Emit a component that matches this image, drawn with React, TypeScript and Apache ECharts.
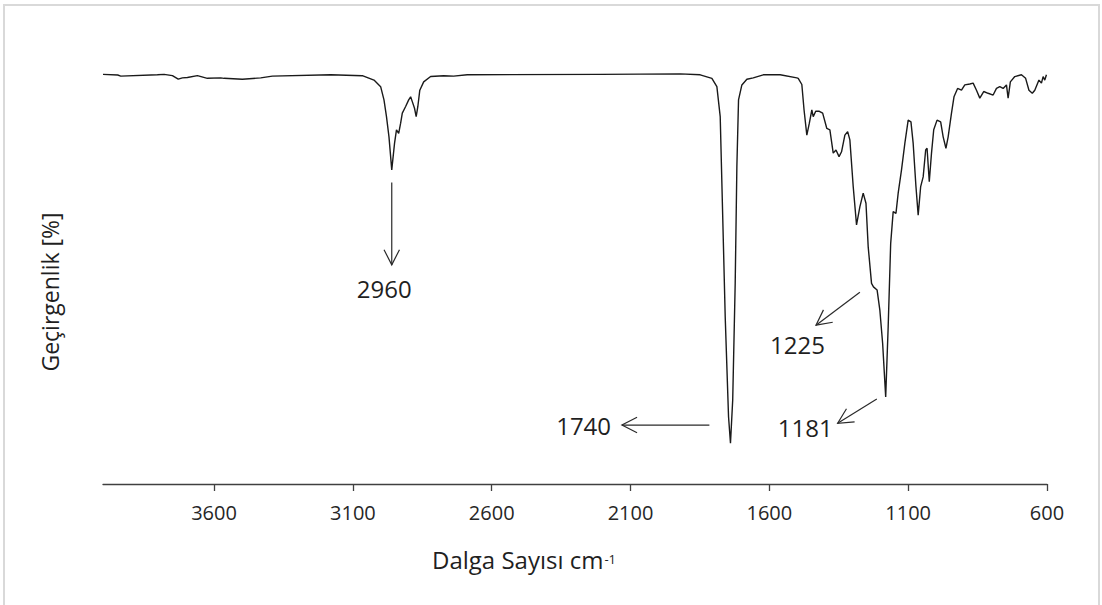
import React, { useEffect, useRef } from 'react';
import * as echarts from 'echarts';

// FTIR spectrum: wavenumber (cm-1) vs. transmittance (%)
const wavenumber = [
  4000, 3947, 3936, 3804, 3780, 3750, 3729, 3714, 3696, 3660,
  3624, 3576, 3564, 3498, 3432, 3390, 3180, 3066, 3024, 3000,
  2988, 2979, 2970, 2960, 2950, 2943, 2935, 2928, 2922, 2910,
  2899, 2892, 2886, 2878, 2872, 2866, 2859, 2845, 2820, 2773,
  2737, 2688, 2209, 1921, 1849, 1807, 1789, 1777, 1768, 1759,
  1747, 1740, 1732, 1723, 1717, 1711, 1699, 1681, 1658, 1622,
  1573, 1561, 1501, 1496, 1483, 1475, 1465, 1456, 1447, 1442,
  1433, 1420, 1408, 1393, 1382, 1370, 1360, 1349, 1340, 1328,
  1318, 1310, 1298, 1286, 1274, 1262, 1252, 1244, 1232, 1225,
  1212, 1202, 1192, 1181, 1172, 1163, 1154, 1144, 1136, 1124,
  1112, 1100, 1090, 1082, 1072, 1064, 1055, 1046, 1037, 1032,
  1024, 1016, 1008, 996, 983, 974, 964, 956, 944, 935,
  922, 908, 896, 878, 866, 854, 842, 828, 812, 794,
  782, 770, 758, 746, 740, 732, 716, 692, 677, 665,
  653, 644, 629, 620, 614, 608, 602,
];

const transmittance = [
  93.1, 92.95, 92.7, 93.0, 93.1, 92.8, 92.0, 92.3, 92.4, 92.8,
  92.2, 92.3, 92.2, 92.0, 92.3, 92.7, 93.0, 92.8, 91.8, 90.3,
  87.3, 83.5, 78.9, 71.4, 77.4, 80.5, 79.7, 82.0, 84.3, 85.8,
  87.3, 88.0, 86.9, 85.4, 83.5, 85.8, 89.5, 91.4, 92.6, 92.8,
  92.7, 93.0, 93.1, 93.2, 93.0, 92.2, 90.3, 83.5, 60.8, 38.0,
  15.3, 9.25, 19.1, 45.7, 72.1, 87.3, 90.7, 92.0, 92.3, 93.0,
  93.0, 93.0, 92.3, 92.2, 90.8, 85.0, 79.3, 82.0, 85.0, 83.5,
  84.7, 84.7, 84.3, 80.8, 80.5, 75.2, 75.9, 74.4, 75.5, 79.3,
  80.1, 78.2, 67.6, 58.9, 63.0, 66.1, 63.8, 53.9, 45.6, 44.8,
  44.1, 39.5, 32.0, 19.8, 35.8, 54.7, 61.9, 61.5, 66.1, 71.4,
  77.4, 82.7, 82.3, 77.4, 67.6, 61.1, 67.6, 69.8, 75.9, 76.3,
  68.7, 75.2, 80.5, 82.7, 82.3, 78.9, 76.3, 78.9, 84.3, 88.0,
  89.9, 89.5, 90.7, 90.9, 91.1, 89.5, 87.7, 89.2, 88.8, 88.4,
  89.9, 90.3, 89.9, 90.7, 87.7, 91.4, 92.6, 93.0, 92.2, 89.5,
  88.8, 89.5, 91.8, 91.1, 92.6, 91.8, 93.0,
];

const xTickValues = [3600, 3100, 2600, 2100, 1600, 1100, 600];

const peakValues = [2960, 1740, 1225, 1181];

// Arrow callouts for the assigned bands, in data units [cm-1, %T]
const callouts = [
  { peak: peakValues[0], tail: [2960, 68.5], tip: [2960, 49.8], label: [2987, 44.5] },
  { peak: peakValues[1], tail: [1816, 13.4], tip: [2131, 13.4], label: [2269, 13.25] },
  { peak: peakValues[2], tail: [1274, 43.6], tip: [1432, 36.1], label: [1499, 31.6] },
  { peak: peakValues[3], tail: [1213, 19.3], tip: [1354, 13.8], label: [1471, 12.9] },
];

const FONT = '"Open Sans", "Noto Sans", "DejaVu Sans", sans-serif';
const INK = '#1f1f1f';

export default function App() {
  const ref = useRef<HTMLDivElement>(null);

  useEffect(() => {
    if (!ref.current) return;
    const chart = echarts.init(ref.current, null, { renderer: 'svg' });

    chart.setOption({
      animation: false,
      backgroundColor: '#ffffff',
      grid: { left: 103, right: 55, top: 44, bottom: 121 },
      xAxis: {
        type: 'value',
        min: 600,
        max: 4000,
        inverse: true,
        axisLine: { show: true, onZero: false, lineStyle: { color: '#404040', width: 1.3 } },
        axisTick: { show: true, length: 7, customValues: xTickValues, lineStyle: { color: '#404040', width: 1.3 } },
        axisLabel: {
          customValues: xTickValues,
          formatter: (v: number) => String(v),
          margin: 18,
          fontSize: 20,
          color: '#262626',
          fontFamily: FONT,
        },
        splitLine: { show: false },
      },
      yAxis: { type: 'value', min: 0, max: 100, show: false },
      series: [
        {
          type: 'line',
          data: wavenumber.map((w, i) => [w, transmittance[i]]),
          showSymbol: false,
          symbol: 'none',
          lineStyle: { color: '#1a1a1a', width: 1.4 },
        },
      ],
    });

    const px = (p: number[]) => chart.convertToPixel({ gridIndex: 0 }, p) as number[];
    const headLen = 17;
    const headAngle = (27 * Math.PI) / 180;

    const calloutElements: any[] = [];
    callouts.forEach((c) => {
      const a = px(c.tail);
      const b = px(c.tip);
      const dx = b[0] - a[0];
      const dy = b[1] - a[1];
      const len = Math.hypot(dx, dy) || 1;
      const bx = -dx / len;
      const by = -dy / len;
      const rot = (ang: number) => [
        b[0] + headLen * (bx * Math.cos(ang) - by * Math.sin(ang)),
        b[1] + headLen * (bx * Math.sin(ang) + by * Math.cos(ang)),
      ];
      const l = px(c.label);
      calloutElements.push(
        {
          type: 'polyline',
          shape: { points: [a, b] },
          style: { stroke: '#2a2a2a', lineWidth: 1.2, fill: 'none' },
          silent: true,
        },
        {
          type: 'polyline',
          shape: { points: [rot(headAngle), b, rot(-headAngle)] },
          style: { stroke: '#2a2a2a', lineWidth: 1.2, fill: 'none' },
          silent: true,
        },
        {
          type: 'text',
          x: l[0],
          y: l[1],
          style: {
            text: String(c.peak),
            fontSize: 24,
            fontFamily: FONT,
            fill: INK,
            align: 'center',
            verticalAlign: 'middle',
          },
          silent: true,
        }
      );
    });

    chart.setOption({
      graphic: [
        {
          type: 'rect',
          shape: { x: 4, y: 5, width: 1095, height: 700 },
          style: { fill: 'none', stroke: '#d9d9d9', lineWidth: 2 },
          silent: true,
          z: -1,
        },
        {
          type: 'text',
          x: 50,
          y: 292,
          rotation: Math.PI / 2,
          style: {
            text: 'Geçirgenlik [%]',
            fontSize: 23,
            fontFamily: FONT,
            fill: INK,
            align: 'center',
            verticalAlign: 'middle',
          },
          silent: true,
        },
        {
          type: 'text',
          x: 524,
          y: 559,
          style: {
            text: '{a|Dalga Sayısı cm}{s|-1}',
            fontFamily: FONT,
            fill: INK,
            align: 'center',
            verticalAlign: 'middle',
            rich: {
              a: { fontSize: 24, fontFamily: FONT, fill: INK, lineHeight: 30, verticalAlign: 'middle' },
              s: { fontSize: 13, fontFamily: FONT, fill: INK, lineHeight: 30, verticalAlign: 'middle', padding: [0, 0, 0, 1] },
            },
          },
          silent: true,
        },
        ...calloutElements,
      ],
    });

    return () => chart.dispose();
  }, []);

  return (
    <div
      ref={ref}
      style={{ position: 'fixed', left: 0, top: 0, width: 1102, height: 605, background: '#fff' }}
    />
  );
}
